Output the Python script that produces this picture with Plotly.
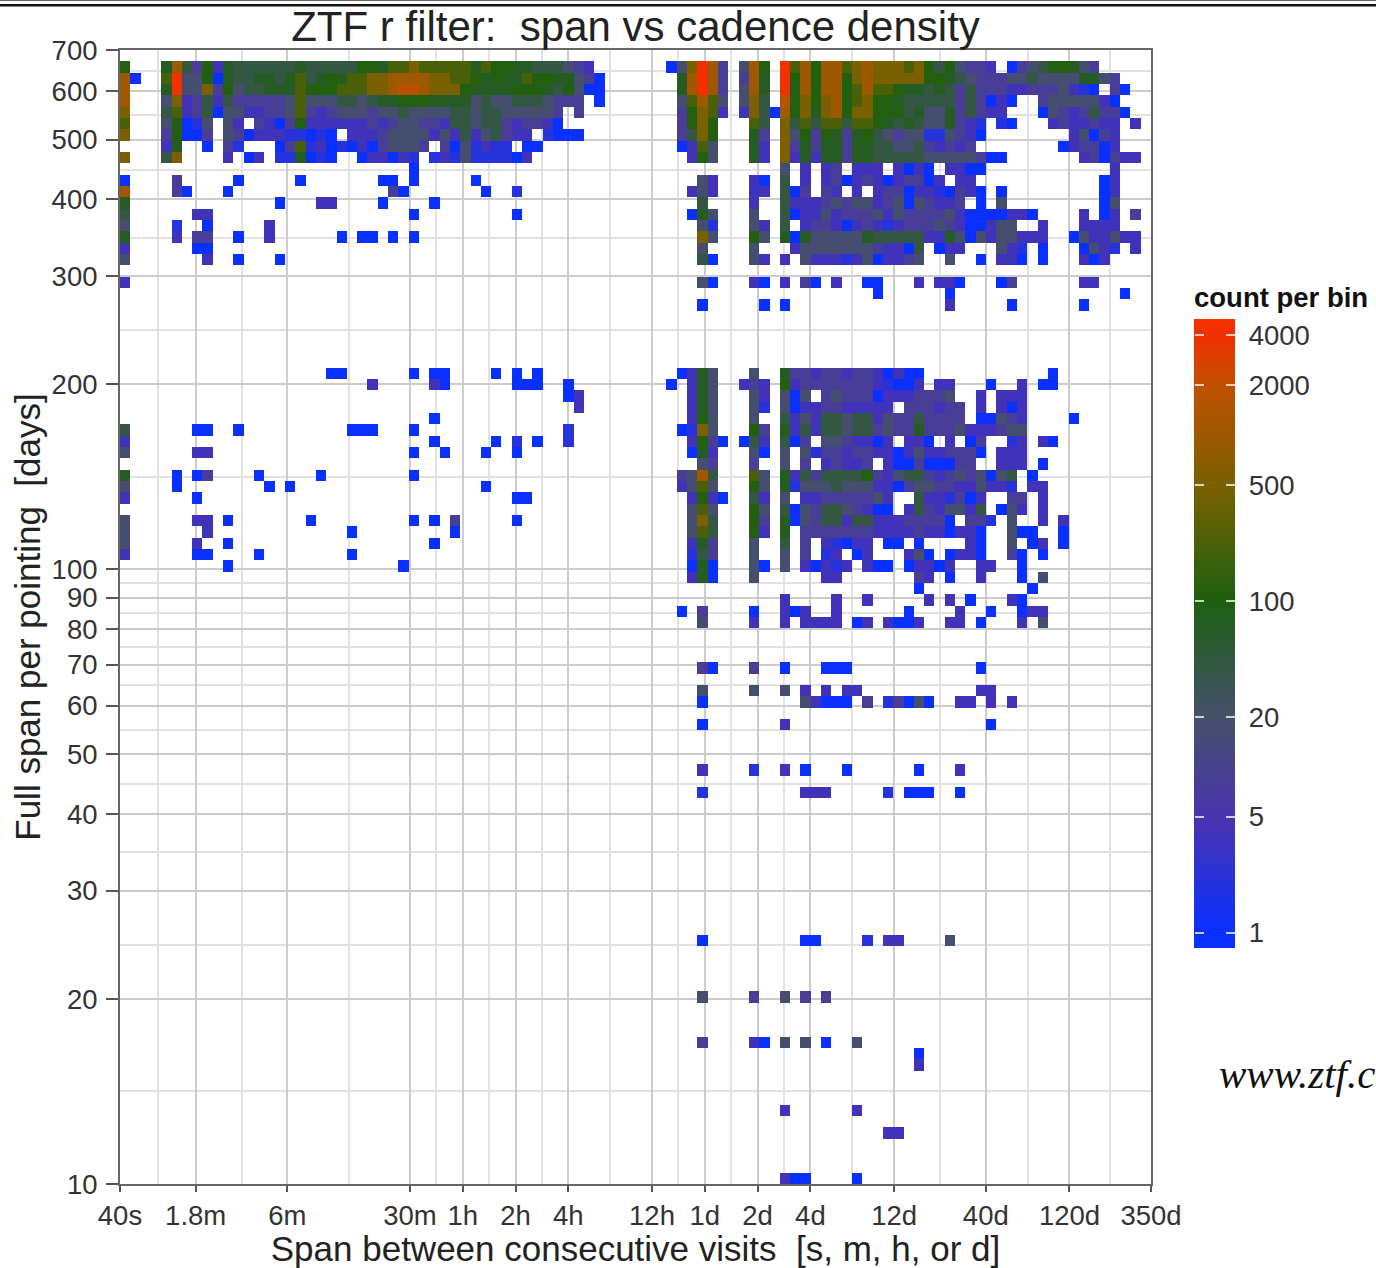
import math
import plotly.graph_objects as go

TITLE = "ZTF r filter:  span vs cadence density"
X_TITLE = "Span between consecutive visits  [s, m, h, or d]"
Y_TITLE = "Full span per pointing  [days]"
CB_TITLE = "count per bin"
SITE_TEXT = "www.ztf.c"

# axis breaks (x in seconds, y in days)
x_tick_vals = [40, 108, 360, 1800, 3600, 7200, 14400, 43200, 86400, 172800, 345600,
               1036800, 3456000, 10368000, 30240000]
x_tick_text = ["40s", "1.8m", "6m", "30m", "1h", "2h", "4h", "12h", "1d", "2d", "4d",
               "12d", "40d", "120d", "350d"]
y_tick_vals = [10, 20, 30, 40, 50, 60, 70, 80, 90, 100, 200, 300, 400, 500, 600, 700]
cb_tick_vals = [1, 5, 20, 100, 500, 2000, 4000]

# bin grid
n_x_bins = 100
n_y_bins = 100
count_min, count_max = 0.81, 5000

# estimated count represented by each letter
level_counts = {"a": 1, "b": 2, "c": 4, "d": 8, "e": 18, "f": 40, "g": 70, "h": 110,
                "i": 220, "j": 500, "k": 1000, "l": 1800, "m": 4500}

# row (from top of plot) -> "start_column:levels" runs, cadences below about 8h
short_cadence_rows = {
    1: "0:h 4:gkfdhc 10:gffffffgff 20:fffhhgiiji 30:iiiigihhgg 40:fffedc",
    2: "0:k 1:a 4:imeeha 10:gffggfgifg 20:hgiijjkkkk 30:jjiihghggi 40:hhggeda",
    3: "0:k 4:gmeejd 10:heffgggihh 20:hiiijjkllk 30:jjjhgggghh 40:hgfheaa",
    4: "0:k 4:ejcdfc 10:fdddddeiee 20:effefgghhh 30:ggggefeeff 40:feddd 46:a",
    5: "0:j 4:ficdfa 10:eeccddeidc 20:deeedeefee 30:eeffeffeee 40:eed 44:d",
    6: "0:i 4:ehabe 10:ec 13:dcadhcc 20:ccccdcdeed 30:dcffeffdcd 40:dca",
    7: "0:j 4:dhaad 10:edacccbbab 20:a 22:cccdeeee 30:cecfcefdcc 41:baaa",
    8: "4:cg 8:a 10:db 15:adibcaba 23:cadeeed 31:daebcbb 39:aa",
    9: "0:j 4:fj 10:c 12:ac 15:bbgaba 23:accacb 30:bcbebbbbac",
    10: "28:a",
    11: "0:a 5:d 11:a 17:a 25:aa 28:a 34:a",
    12: "0:k 5:da 10:a 26:da 35:a 38:b",
    13: "0:g 15:a 19:cc 25:a 30:a",
    14: "0:f 7:cc 28:a 38:a",
    15: "0:e 5:b 8:a 14:c",
    16: "0:g 5:c 7:dd 11:a 14:c 21:a 23:aa 26:a 28:a",
    17: "0:c 7:aa",
    18: "0:e 8:c 11:a 15:a",
    20: "0:c",
    28: "20:aa 28:a 30:aa 36:a 38:a 40:a",
    29: "24:c 30:ca 38:aaa 43:a",
    30: "43:ac",
    31: "44:c",
    32: "30:a",
    33: "0:f 7:aa 11:a 22:aaa 28:a 43:b",
    34: "0:c 30:a 36:a 38:b 40:a 43:b",
    35: "0:e 7:cc 28:a 31:a 35:a 38:a",
    37: "0:g 5:a 7:ad 13:a 19:a 28:a",
    38: "0:e 5:a 14:a 16:a 35:a",
    39: "0:c 7:a 38:aa",
    41: "0:e 7:cc 10:a 18:a 28:a 30:a 32:d 38:a",
    42: "0:e 8:c 22:a 32:a",
    43: "0:e 7:c 10:a 30:a",
    44: "0:c 7:aa 13:a 22:a",
    45: "10:a 27:a",
}

# row (from top of plot) -> "start_column:levels" runs, cadences above about 8h
long_cadence_rows = {
    1: "53:a 54:ejmkd 60:ekh 64:mikhkkijkj 74:jjijhfheddc 86:adefhhged",
    2: "54:gkmkd 60:dkg 64:mhkhkkhjkj 74:jjjjhhgfeddd 86:eefeeeegged",
    3: "54:gkmkd 60:ekg 64:mhkhkkhiki 74:ihggfgfdfd 84:ddccdddecba 96:da",
    4: "54:eikie 60:ejf 64:lhjhjkhijh 74:hgfffffdfd 84:aca 89:deeeeeca",
    5: "54:dhjic 60:cjfak 65:hjgjkhjjhh 75:hfgeegdfdcc 89:aedcdfdda",
    6: "54:dhjh 61:if 64:jfifiifiih 74:gfgfeegdcb 85:ba 90:cdccdcc 98:c",
    7: "54:dfjh 61:gd 64:jehdhgdghf 74:edeebbedca 92:ceadc",
    8: "54:acie 61:gc 64:jdgdggdggf 74:feefdcdcd 91:acddac",
    9: "55:che 61:gc 64:jcgcggdggf 74:ffffeeeeed 84:aa 93:cdadcc",
    10: "64:e 66:c 68:cd 71:ccc 75:caca 80:ccaa 96:c",
    11: "56:ec 61:ca 64:f 66:c 68:cdacdcacddac 81:cc 95:ac",
    12: "55:cec 61:cc 64:fad 68:dc 71:c 73:cddaccbadca 85:a 95:ac",
    13: "56:f 61:c 64:fcccdedeec 74:deaedccd 83:a 85:e 95:ae",
    14: "55:age 61:e 64:faccecddde 74:ceddddecaa 84:aacca 93:c 95:ac 98:d",
    15: "56:eb 61:ec 64:f 66:cddcacdcbc 76:dddedcaacee 89:c 93:cccc",
    16: "56:je 61:he 64:gageeeeegf 74:ffffccgeae 84:ceeccc 92:aeccecc",
    17: "56:e 61:e 65:ceeeeeeedcc 76:af 79:acc 85:ecb 89:a 93:aecb 98:c",
    18: "56:fa 61:ec 64:c 66:ecccbceacc 76:de 80:e 83:a 85:cca 89:a 93:cac",
    20: "56:ea 61:ca 64:c 66:da 69:c 72:aa 77:c 79:cca 85:ad 93:cc",
    21: "73:a 80:a 97:a",
    22: "56:a 62:a 64:a 80:c 86:a 93:a",
    28: "54:acge 61:e 64:gddcddcddc 74:acaa 90:a",
    29: "53:a 55:cge 60:cdc 64:hcdddddddc 74:baac 79:cc 84:a 87:c 89:aa",
    30: "55:cge 61:ec 64:eae 68:deddda 74:cccd 78:dde 83:c 85:ccc",
    31: "55:cge 61:eb 64:eaccddcccc 74:c 76:dddcdd 83:c 85:cac",
    32: "55:che 61:e 64:fcecffeffc 74:eddfdddd 83:aaedc 92:a",
    33: "54:abje 61:hd 64:gcfcffeffd 74:eddgdddecc 84:cdee",
    34: "55:chda 60:afc 64:fad 68:eedccac 76:cca 80:c 82:ad 86:bc 89:ca",
    35: "55:agc 61:ea 64:e 66:ebddcddcca 76:ceccddda 85:ccc",
    36: "56:ed 61:d 64:e 66:d 68:cdccd 74:caadaaadd 85:ccc 89:a",
    37: "54:dekf 61:ie 64:gcfdffffhd 74:ceffdcdede 84:aef 88:a",
    38: "54:ceie 61:he 64:gbeeefeeec 74:cadeeddcce 84:ccb 88:cc",
    39: "55:chca 61:fc 64:e 66:ccddddde 74:c 77:fccbdac 86:dd 89:c",
    40: "55:eie 61:he 64:faedffedca 74:a 76:cfdceecf 85:aec 89:c",
    41: "55:ejf 61:hd 64:gaedffcffc 74:ccdddda 82:ddb 86:e 89:c 91:c",
    42: "55:eif 61:hc 64:g 66:dddddddccc 76:cdccacca 86:eaa 91:a",
    43: "55:cgd 61:e 64:f 66:d 68:cbacc 74:aa 77:a 82:ca 86:e 88:ac 91:a",
    44: "55:bfd 61:e 64:e 66:d 68:bc 71:ac 76:cea 80:acca 86:da 89:a",
    45: "55:aga 61:ea 64:e 66:cacbc 72:caa 76:accac 83:cc 87:a",
    46: "55:cga 61:e 68:cc 77:dc 80:a 83:c 87:a 89:e",
    47: "77:a 88:a",
    48: "64:c 69:c 72:c 78:c 80:c 82:a 86:ca",
    49: "54:a 56:d 61:a 64:cac 69:c 76:a 81:c 84:a 87:acc",
    50: "56:e 61:c 64:c 66:cccc 71:ac 74:caac 80:cc 83:a 87:c 89:e",
    54: "56:da 61:d 64:a 68:aaa 83:a",
    56: "56:e 61:e 64:e 66:c 68:c 70:cc 83:cc",
    57: "56:a 66:ecaaa 72:d 74:bdaea 81:cc 84:c 86:c",
    59: "56:a 64:c 84:a",
    63: "56:c 61:b 64:c 66:a 70:a 77:a 81:c",
    65: "56:b 66:ccc 74:b 76:aaa 81:a",
    78: "56:a 66:aa 72:b 74:cc 80:e",
    83: "56:e 61:d 64:e 66:d 68:d",
    87: "56:d 61:ca 64:e 66:e 68:a 71:e",
    88: "77:a",
    89: "77:c",
    93: "64:c 71:c",
    95: "74:cc",
    99: "64:caa 71:a",
}

x_lo, x_hi = math.log10(x_tick_vals[0]), math.log10(x_tick_vals[-1])
y_lo, y_hi = math.log10(y_tick_vals[0]), math.log10(y_tick_vals[-1])
x_edges = [10 ** (x_lo + (x_hi - x_lo) * i / n_x_bins) for i in range(n_x_bins + 1)]
y_edges = [10 ** (y_lo + (y_hi - y_lo) * i / n_y_bins) for i in range(n_y_bins + 1)]

z = [[None] * n_x_bins for _ in range(n_y_bins)]
for rows in (short_cadence_rows, long_cadence_rows):
    for t, runs in rows.items():
        for run in runs.split():
            start, levels = run.split(":")
            for k, ch in enumerate(levels):
                z[n_y_bins - 1 - t][int(start) + k] = math.log10(level_counts[ch])

zmin, zmax = math.log10(count_min), math.log10(count_max)
anchors = [(count_min, "#0a30ff"), (1, "#0a30ff"), (5, "#4a34ae"), (20, "#45506a"),
           (100, "#1c6010"), (500, "#7a6000"), (2000, "#c05000"), (4000, "#f03000"),
           (count_max, "#f83000")]
colorscale = [[(math.log10(c) - zmin) / (zmax - zmin), col] for c, col in anchors]


def midpoints(vals):
    return [math.sqrt(a * b) for a, b in zip(vals, vals[1:])]


TEXT = "#333333"
FONT = "Liberation Sans"
TICK_SIZE = 27.5
PX_L, PX_R, PX_T, PX_B = 120, 1151, 50, 1184
W, H = 1376, 1268
CB_TOP, CB_BOTTOM, CB_LEFT, CB_RIGHT = 319, 948, 1194, 1235
cb_tick_white = "rgba(255,255,255,0.75)"
cb_x = (CB_LEFT - PX_L) / (PX_R - PX_L)


def paper_x(px):
    return (px - PX_L) / (PX_R - PX_L)


def paper_y(px):
    return (PX_B - px) / (PX_B - PX_T)


fig = go.Figure()
fig.add_trace(go.Heatmap(
    x=x_edges, y=y_edges, z=z, zmin=zmin, zmax=zmax, colorscale=colorscale,
    hoverongaps=False,
    colorbar=dict(
        x=cb_x, xanchor="left", xpad=0, y=paper_y(CB_BOTTOM), yanchor="bottom", ypad=0,
        lenmode="pixels", len=CB_BOTTOM - CB_TOP, thicknessmode="pixels",
        thickness=CB_RIGHT - CB_LEFT, outlinewidth=0, borderwidth=0,
        tickvals=[math.log10(v) for v in cb_tick_vals],
        ticktext=["\u00a0" + str(v) for v in cb_tick_vals],
        ticks="inside", ticklen=9, tickwidth=1.5, tickcolor=cb_tick_white,
        tickfont=dict(family=FONT, size=TICK_SIZE, color=TEXT),
    ),
))
# second, tick-only colour bar: gives the white ticks on the bar's left edge
fig.add_trace(go.Heatmap(
    x=[1, 2], y=[1, 2], z=[[zmin]], zmin=zmin, zmax=zmax, colorscale=colorscale,
    hoverinfo="skip",
    colorbar=dict(
        x=cb_x, xanchor="left", xpad=0, y=paper_y(CB_BOTTOM), yanchor="bottom", ypad=0,
        lenmode="pixels", len=CB_BOTTOM - CB_TOP, thicknessmode="pixels", thickness=1,
        outlinewidth=0, borderwidth=0,
        tickvals=[math.log10(v) for v in cb_tick_vals], showticklabels=False,
        ticks="outside", ticklen=9, tickwidth=1.5, tickcolor=cb_tick_white,
    ),
))

fig.update_layout(
    width=W, height=H, autosize=False, paper_bgcolor="white", plot_bgcolor="white",
    margin=dict(l=PX_L, r=W - PX_R, t=PX_T, b=H - PX_B, pad=0),
    font=dict(family=FONT, color=TEXT),
    title=dict(text=TITLE, x=(PX_L + PX_R) / 2 / W, xanchor="center", y=1 - 26 / H, yanchor="middle",
               font=dict(family=FONT, size=42, color="#222222")),
    xaxis=dict(
        type="log", range=[x_lo, x_hi], tickmode="array", tickvals=x_tick_vals,
        ticktext=x_tick_text, tickfont=dict(family=FONT, size=TICK_SIZE, color=TEXT),
        ticks="outside", ticklen=6, tickwidth=2, tickcolor="#555555",
        showgrid=True, gridcolor="#cccccc", gridwidth=2, zeroline=False,
        showline=True, linecolor="#666666", linewidth=2, mirror=True,
        minor=dict(tickmode="array", tickvals=midpoints(x_tick_vals), showgrid=True,
                   gridcolor="#e2e2e2", gridwidth=2, ticks=""),
        title=dict(text=X_TITLE, font=dict(family=FONT, size=35, color="#222222"), standoff=4),
        automargin=False,
    ),
    yaxis=dict(
        type="log", range=[y_lo, y_hi], tickmode="array", tickvals=y_tick_vals,
        ticktext=[str(v) for v in y_tick_vals],
        tickfont=dict(family=FONT, size=TICK_SIZE, color=TEXT),
        ticks="outside", ticklen=12, tickwidth=2, tickcolor="#555555", ticklabelstandoff=3,
        showgrid=True, gridcolor="#cccccc", gridwidth=2, zeroline=False,
        showline=True, linecolor="#666666", linewidth=2, mirror=True,
        minor=dict(tickmode="array", tickvals=midpoints(y_tick_vals), showgrid=True,
                   gridcolor="#e2e2e2", gridwidth=2, ticks=""),
        title=dict(text=Y_TITLE, font=dict(family=FONT, size=35, color="#222222"), standoff=0),
        automargin=False,
    ),
    annotations=[
        dict(text="<i>" + SITE_TEXT + "</i>", xref="paper", yref="paper",
             x=paper_x(1217), y=paper_y(1074), xanchor="left", yanchor="middle", showarrow=False,
             font=dict(family="Liberation Serif", size=41, color="#111111")),
        dict(text="<b>" + CB_TITLE + "</b>", xref="paper", yref="paper",
             x=paper_x(CB_LEFT), y=paper_y(297), xanchor="left", yanchor="middle", showarrow=False,
             xshift=-2, font=dict(family=FONT, size=27.5, color="#111111")),
    ],
    shapes=[
        dict(type="rect", xref="paper", yref="paper", layer="above",
             x0=paper_x(0), x1=paper_x(W), y0=paper_y(6.5), y1=paper_y(4),
             line=dict(width=0), fillcolor="#111111"),
        dict(type="rect", xref="paper", yref="paper", layer="above",
             x0=paper_x(0), x1=paper_x(W), y0=paper_y(1), y1=paper_y(0),
             line=dict(width=0), fillcolor="#666666"),
    ],
)

fig.write_html("out.html", config={"displayModeBar": False},
               post_script="document.body.style.margin='0';")
